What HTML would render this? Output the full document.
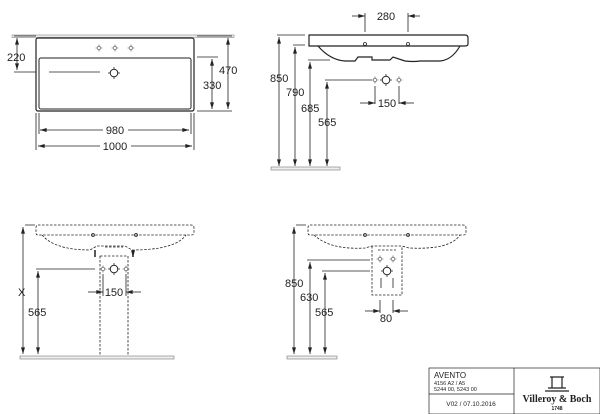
<!DOCTYPE html>
<html><head><meta charset="utf-8"><style>
html,body{margin:0;padding:0;background:#fff;width:600px;height:414px;overflow:hidden}
svg{display:block}
text{font-family:"Liberation Sans",sans-serif;fill:#222}
</style></head><body>
<svg width="600" height="414" viewBox="0 0 600 414" xmlns="http://www.w3.org/2000/svg">
<defs>
<marker id="a" viewBox="0 0 10 6" refX="10" refY="3" markerWidth="7" markerHeight="4" orient="auto-start-reverse" markerUnits="userSpaceOnUse"><path d="M0,0L10,3L0,6z" fill="#222"/></marker>
<g id="tap"><circle r="1.8" fill="#fff" stroke="#444" stroke-width="0.6"/><path d="M-3.5,0h1.7M1.8,0h1.7M0,-3.5v1.7M0,1.8v1.7" stroke="#444" stroke-width="0.6"/></g>
<g id="big"><circle r="3.8" fill="#fff" stroke="#222" stroke-width="1"/><path d="M-6,0h2.2M3.8,0h2.2M0,-6v2.2M0,3.8v2.2" stroke="#222" stroke-width="0.8"/></g>
</defs>
<g stroke="#222" stroke-width="0.8" fill="none">
<!-- TOP LEFT -->
<rect x="12" y="35" width="222" height="2.5" fill="#eee" stroke="#888" stroke-width="0.6"/>
<rect x="36" y="38" width="158" height="73" rx="2" stroke-width="1.2"/>
<rect x="39" y="58" width="152" height="51" rx="2" stroke-width="1"/>
<path d="M49,72H100"/>
<path d="M36,72H14M36,36H14M197,57H218M197,111H232M197,36H232"/>
<path d="M17,38V70" marker-start="url(#a)" marker-end="url(#a)"/>
<path d="M212,59V109" marker-start="url(#a)" marker-end="url(#a)"/>
<path d="M228,38V109" marker-start="url(#a)" marker-end="url(#a)"/>
<path d="M36,113V150M39,113V134M191,113V134M194,113V150"/>
<path d="M40,130H103M128,130H189" />
<path d="M40,130h1" marker-start="url(#a)"/><path d="M188,130h1" marker-end="url(#a)"/>
<path d="M38,146H100M131,146H192"/>
<path d="M38,146h1" marker-start="url(#a)"/><path d="M191,146h1" marker-end="url(#a)"/>
<!-- TOP RIGHT -->
<path d="M309,35H465Q468,35 468,38V44Q468,46 465,46H309Z" stroke-width="1.2"/>
<path d="M318,46Q330,60 345,61H355L358,57H372V60H390L393,57L405,61Q414,62 420,61H440Q452,60 460,46" stroke-width="1.2"/>
<circle cx="365" cy="44" r="1.5"/><circle cx="408" cy="44" r="1.5"/>
<path d="M365,13V32M408,13V32"/>
<path d="M352,16H365" marker-end="url(#a)"/><path d="M420,16H408" marker-end="url(#a)"/>
<path d="M277,35H305M293,45H305M308,60H330M325,80H372"/>
<path d="M279,37V166" marker-start="url(#a)" marker-end="url(#a)"/>
<path d="M295,47V166" marker-start="url(#a)" marker-end="url(#a)"/>
<path d="M310,62V166" marker-start="url(#a)" marker-end="url(#a)"/>
<path d="M327,82V166" marker-start="url(#a)" marker-end="url(#a)"/>
<rect x="271" y="167" width="69" height="3" fill="#eee" stroke="#777" stroke-width="0.6"/>
<path d="M375,86V104M399,86V104"/>
<path d="M360,103H375" marker-end="url(#a)"/><path d="M414,103H399" marker-end="url(#a)"/>
<!-- BOTTOM LEFT -->
<g stroke-dasharray="2.5,1.5">
<path d="M38,225H191Q194,225 194,228V233Q194,235 191,235H38Q36,235 36,233V228Q36,225 38,225Z"/>
<path d="M42,235Q55,250 90,250L97,246H125L132,250Q175,250 186,235"/>
<path d="M105,247H123M100,256H128M100,256V356M128,256V356"/>
</g>
<circle cx="93" cy="235" r="1.5"/><circle cx="136" cy="235" r="1.5"/>
<path d="M95,250V257M133,250V257" stroke-width="1.5" marker-end="url(#a)"/>
<path d="M36,269H95M25,225H35"/>
<path d="M23,227V354" marker-start="url(#a)" marker-end="url(#a)"/>
<path d="M38,271V354" marker-start="url(#a)" marker-end="url(#a)"/>
<path d="M103,274V296M126,274V296"/>
<path d="M88,292H103" marker-end="url(#a)"/><path d="M141,292H126" marker-end="url(#a)"/>
<rect x="20" y="356" width="154" height="3" fill="#eee" stroke="#777" stroke-width="0.6"/>
<!-- BOTTOM RIGHT -->
<g stroke-dasharray="2.5,1.5">
<path d="M310,225H463Q466,225 466,228V233Q466,235 463,235H310Q308,235 308,233V228Q308,225 310,225Z"/>
<path d="M314,235Q330,250 365,248L372,246H402L409,248Q450,250 460,235"/>
<path d="M372,246V295H402V246M378,250H396"/>
</g>
<circle cx="365" cy="235" r="1.5"/><circle cx="408" cy="235" r="1.5"/>
<path d="M381,278V288M393,278V288"/>
<path d="M296,225H306M307,260H370M322,271H370"/>
<path d="M294,227V354" marker-start="url(#a)" marker-end="url(#a)"/>
<path d="M310,262V354" marker-start="url(#a)" marker-end="url(#a)"/>
<path d="M325,273V354" marker-start="url(#a)" marker-end="url(#a)"/>
<path d="M380,300V313M393,300V313"/>
<path d="M365,311H380" marker-end="url(#a)"/><path d="M408,311H393" marker-end="url(#a)"/>
<rect x="287" y="356" width="50" height="3" fill="#eee" stroke="#777" stroke-width="0.6"/>
<!-- TITLE -->
<rect x="429" y="368" width="171" height="46" stroke-width="0.7"/>
<path d="M514,368V414M429,394H514" stroke-width="0.7"/>
<path d="M548,388h18M545,391h24M552,388v-11h10v11M550,377h14" stroke-width="1.2"/>
</g>
<use href="#tap" x="99" y="48"/><use href="#tap" x="115" y="48"/><use href="#tap" x="131" y="48"/>
<use href="#big" x="114" y="73"/>
<use href="#tap" x="375" y="80"/><use href="#big" x="386" y="80"/><use href="#tap" x="399" y="80"/>
<use href="#tap" x="103" y="269"/><use href="#big" x="114" y="269"/><use href="#tap" x="126" y="269"/>
<use href="#tap" x="380" y="259"/><use href="#tap" x="393" y="259"/><use href="#big" x="387" y="271"/>
<g font-size="11">
<text x="7" y="61">220</text>
<text x="203" y="89">330</text>
<text x="219" y="74">470</text>
<text x="115" y="134" text-anchor="middle" style="paint-order:stroke" stroke="#fff" stroke-width="3">980</text>
<text x="115" y="150" text-anchor="middle" style="paint-order:stroke" stroke="#fff" stroke-width="3">1000</text>
<text x="386" y="20" text-anchor="middle">280</text>
<text x="270" y="82">850</text>
<text x="286" y="96">790</text>
<text x="301" y="112">685</text>
<text x="318" y="126">565</text>
<text x="387" y="107" text-anchor="middle">150</text>
<text x="18" y="296">X</text>
<text x="28" y="316">565</text>
<text x="114" y="296" text-anchor="middle">150</text>
<text x="285" y="287">850</text>
<text x="300" y="301">630</text>
<text x="315" y="316">565</text>
<text x="386" y="322" text-anchor="middle">80</text>
</g>
<text x="434" y="378" font-size="8">AVENTO</text>
<text x="434" y="385" font-size="5.5">4156 A2 / A5</text>
<text x="434" y="391" font-size="5.5">5244 00, 5243 00</text>
<text x="471" y="406" font-size="6.5" text-anchor="middle">V02 / 07.10.2016</text>
<text x="557" y="402" font-size="10" font-weight="bold" text-anchor="middle" style="font-family:'Liberation Serif',serif">Villeroy &amp; Boch</text>
<text x="557" y="410" font-size="5" font-weight="bold" text-anchor="middle">1748</text>
</svg>
</body></html>
